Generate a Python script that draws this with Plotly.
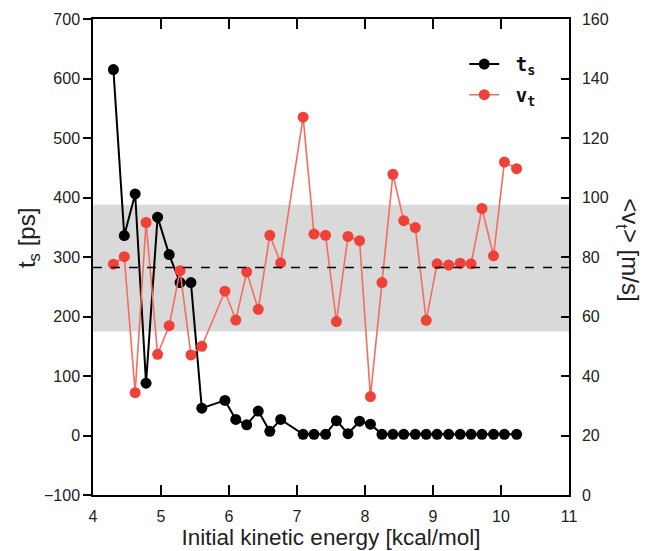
import plotly.graph_objects as go

energy = [4.30, 4.46, 4.62, 4.78, 4.95, 5.12, 5.28, 5.44, 5.60, 5.94, 6.10, 6.26, 6.43,
          6.60, 6.76, 7.09, 7.25, 7.42, 7.58, 7.75, 7.92, 8.08, 8.25, 8.41, 8.57, 8.74,
          8.90, 9.06, 9.23, 9.40, 9.56, 9.72, 9.89, 10.05, 10.23]
ts = [615, 336, 406, 88, 367, 304, 257, 257, 46, 59, 27, 18, 41,
      7, 27, 2, 2, 2, 25, 3, 24, 19, 2, 2, 2, 2,
      2, 2, 2, 2, 2, 2, 2, 2, 2]
vt = [77.6, 80.1, 34.4, 91.6, 47.3, 56.9, 75.4, 47.1, 50.0, 68.5, 58.8, 75.0, 62.4,
      87.3, 78.0, 127.0, 87.7, 87.3, 58.3, 86.9, 85.5, 33.1, 71.4, 107.8, 92.2, 89.9,
      58.7, 77.7, 77.3, 77.9, 77.7, 96.3, 80.4, 111.9, 109.7]
band = [175, 388]
mean_ts = 282.5

fig = go.Figure()
fig.add_trace(go.Scatter(x=energy, y=ts, name="\u00a0t<sub>s</sub>", mode="lines+markers",
                         legendgroup="a",
                         line=dict(color="black", width=2),
                         marker=dict(color="black", size=11)))
fig.add_trace(go.Scatter(x=energy, y=vt, name="\u00a0v<sub>t</sub>", mode="lines+markers",
                         yaxis="y2", legendgroup="b",
                         line=dict(color="#f46d5e", width=1.6),
                         marker=dict(color="#ef4138", size=11)))

fig.add_shape(type="rect", xref="paper", yref="y", x0=0, x1=1, y0=band[0], y1=band[1],
              fillcolor="#d9d9d9", line=dict(width=0), layer="below")
fig.add_shape(type="line", xref="paper", yref="y", x0=0, x1=1, y0=mean_ts, y1=mean_ts,
              line=dict(color="black", width=1.5, dash="dash"))

tickfont = dict(family="Liberation Sans, Arial", size=16, color="#222")
fig.update_layout(
    width=653, height=551,
    margin=dict(l=93, r=84, t=19, b=56, autoexpand=False),
    plot_bgcolor="white", paper_bgcolor="white",
    showlegend=True,
    legend=dict(x=0.78, y=0.945, xanchor="left", yanchor="top", tracegroupgap=3,
                bgcolor="rgba(0,0,0,0)",
                font=dict(family="DejaVu Sans Mono", size=19, color="#111", weight="bold")),
    xaxis=dict(range=[4, 11], tickvals=[4, 5, 6, 7, 8, 9, 10, 11], showgrid=False, zeroline=False,
               showline=True, linecolor="black", linewidth=1.5, mirror="ticks", automargin=False,
               ticks="inside", ticklen=10, tickwidth=1.5, tickcolor="black", tickfont=tickfont,
               ticklabelstandoff=6,
               title=dict(text="Initial kinetic energy [kcal/mol]",
                          font=dict(family="Liberation Sans, Arial", size=22.5, color="#222"),
                          standoff=2)),
    yaxis=dict(range=[-100, 700], dtick=100, showgrid=False, zeroline=False, automargin=False,
               showline=True, linecolor="black", linewidth=1.5,
               ticks="outside", ticklen=8, tickwidth=1.5, tickcolor="black", tickfont=tickfont),
    yaxis2=dict(range=[0, 160], dtick=20, overlaying="y", side="right", showgrid=False,
                zeroline=False, showline=True, linecolor="black", linewidth=1.5, automargin=False,
                ticks="inside", ticklen=8, tickwidth=1.5, tickcolor="black", tickfont=tickfont,
                ticklabelstandoff=8),
)
fig.add_annotation(xref="paper", yref="paper", x=-0.172, y=0.539, showarrow=False,
                   text="t<sub>s</sub> [ps]", textangle=-90,
                   font=dict(family="Liberation Sans, Arial", size=24, color="#222"))
fig.add_annotation(xref="paper", yref="paper", x=1.160, y=0.515, showarrow=False,
                   text="&lt;v<sub>t</sub>&gt; [m/s]", textangle=90,
                   font=dict(family="Liberation Sans, Arial", size=24, color="#222"))

fig.write_html("out.html", config={"displayModeBar": False},
               post_script="document.body.style.margin='0';document.body.style.overflow='hidden';")
